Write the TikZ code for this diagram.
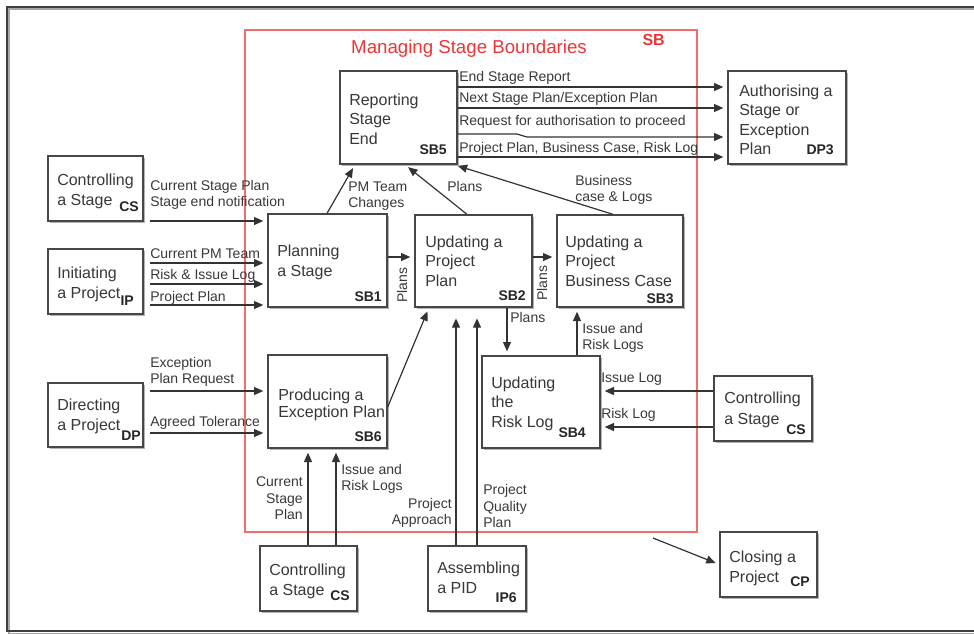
\documentclass[tikz,border=0pt]{standalone}
\usepackage{fontspec}
\setmainfont{Liberation Sans}
\usetikzlibrary{arrows.meta,fit,shadows}
\definecolor{sbred}{RGB}{238,52,52}
\definecolor{sbline}{RGB}{240,110,110}
\begin{document}
% text nodes are placed by the baseline of their last line
\begin{tikzpicture}[x=0.75pt,y=-0.75pt,
  box/.style={draw=black!72, line width=1pt, fill=white, inner sep=0pt,
    drop shadow={shadow xshift=1.2pt, shadow yshift=-1.2pt, fill=black!30, opacity=1}},
  btxt/.style={anchor=base west, inner sep=0pt, align=left, text=black!78,
    font=\fontsize{12}{14.6}\selectfont},
  code/.style={anchor=base east, inner sep=0pt, text=black!85,
    font=\fontsize{10.5}{12}\selectfont\bfseries},
  lbl/.style={anchor=base west, inner sep=0pt, align=left, text=black!78,
    font=\fontsize{10.5}{12.2}\selectfont},
  lblr/.style={lbl, anchor=base east, align=right},
  arr/.style={draw=black!80, line width=0.9pt, -{Triangle[length=7pt,width=6pt]}, shorten >=3pt},
]
\useasboundingbox (0,0) rectangle (974,633);
\clip (0,0) rectangle (974,633);

% outer frame
\draw[black!35, line width=1.5pt] (9,634) -- (9,9) -- (990,9);
\draw[black!35, line width=1.5pt] (9,633.5) -- (990,633.5);
\draw[black!75, line width=1.5pt] (7,632) -- (7,7) -- (990,7);
\draw[black!75, line width=1.5pt] (7,631) -- (990,631);

% stage boundary frame
\node[draw=sbline, line width=1pt, inner sep=0pt, fit={(245,30) (697,532)}] (sb) {};
\node[anchor=base, text=sbred, font=\fontsize{14}{16}\selectfont] (sbtitle) at (469,53) {Managing Stage Boundaries};
\node[anchor=base east, inner sep=0pt, text=sbred, font=\fontsize{12}{14}\selectfont\bfseries] (sbcode) at (665,45) {SB};

% process boxes
\node[box, fit={(340,71) (457,164)}] (sb5) {};
\node[btxt] (sb5t) at (349,144.4) {Reporting\\Stage\\End};
\node[code] (sb5c) at (447,154) {SB5};

\node[box, fit={(728,71) (846,164)}] (dp3) {};
\node[btxt] (dp3t) at (739,154.9) {Authorising a\\Stage or\\Exception\\Plan};
\node[code] (dp3c) at (834,154) {DP3};

\node[box, fit={(48,156) (143,221)}] (cs1) {};
\node[btxt] (cs1t) at (57,205) {Controlling\\a Stage};
\node[code] (cs1c) at (139,211) {CS};

\node[box, fit={(48,249) (143,314)}] (ip) {};
\node[btxt] (ipt) at (57,298) {Initiating\\a Project};
\node[code] (ipc) at (134,305) {IP};

\node[box, fit={(48,383) (143,447)}] (dp) {};
\node[btxt] (dpt) at (57,430) {Directing\\a Project};
\node[code] (dpc) at (141,440) {DP};

\node[box, fit={(268,214) (387,307)}] (sb1) {};
\node[btxt] (sb1t) at (277,276) {Planning\\a Stage};
\node[code] (sb1c) at (382,301) {SB1};

\node[box, fit={(415,215) (532,307)}] (sb2) {};
\node[btxt] (sb2t) at (425,286.4) {Updating a\\Project\\Plan};
\node[code] (sb2c) at (526,300) {SB2};

\node[box, fit={(557,215) (683,307)}] (sb3) {};
\node[btxt] (sb3t) at (565,286.4) {Updating a\\Project\\Business Case};
\node[code] (sb3c) at (674,303) {SB3};

\node[box, fit={(482,356) (600,448)}] (sb4) {};
\node[btxt] (sb4t) at (491,427.4) {Updating\\the\\Risk Log};
\node[code] (sb4c) at (586,437.5) {SB4};

\node[box, fit={(268,355) (387,448)}] (sb6) {};
\node[btxt, font=\fontsize{12}{12.8}\selectfont] (sb6t) at (278,417.6) {Producing a\\Exception Plan};
\node[code] (sb6c) at (382,441) {SB6};

\node[box, fit={(714,376) (812,441)}] (cs2) {};
\node[btxt, font=\fontsize{12}{15.5}\selectfont] (cs2t) at (724,424.2) {Controlling\\a Stage};
\node[code] (cs2c) at (806,434.5) {CS};

\node[box, fit={(260,546) (357,611)}] (cs3) {};
\node[btxt] (cs3t) at (269,595) {Controlling\\a Stage};
\node[code] (cs3c) at (350,600) {CS};

\node[box, fit={(428,546) (526,611)}] (pid) {};
\node[btxt] (pidt) at (437,593) {Assembling\\a PID};
\node[code] (pidc) at (517,602.5) {IP6};

\node[box, fit={(720,532) (817,597)}] (cp) {};
\node[btxt] (cpt) at (729,582) {Closing a\\Project};
\node[code] (cpc) at (810,586) {CP};

% outputs of SB5 to DP3
\draw[arr] (sb5.east |- 0,87) -- (dp3.west |- 0,87);
\draw[arr] (sb5.east |- 0,108) -- (dp3.west |- 0,108);
\draw[arr] (sb5.east |- 0,134) -- (517,134) -- (527,137) -- (dp3.west |- 0,137);
\draw[arr] (sb5.east |- 0,157) -- (dp3.west |- 0,157);
\node[lbl] (l1) at (459,81) {End Stage Report};
\node[lbl] (l2) at (459,102) {Next Stage Plan/Exception Plan};
\node[lbl] (l3) at (459,125) {Request for authorisation to proceed};
\node[lbl] (l4) at (459,152) {Project Plan, Business Case, Risk Log};

% inputs on the left
\draw[arr, shorten <=4.5pt] (cs1.east |- 0,221) -- (sb1.west |- 0,221);
\node[lbl] (l5) at (150,206.3) {Current Stage Plan\\Stage end notification};
\draw[arr, shorten <=4.5pt] (ip.east |- 0,263) -- (sb1.west |- 0,263);
\draw[arr, shorten <=4.5pt] (ip.east |- 0,284) -- (sb1.west |- 0,284);
\draw[arr, shorten <=4.5pt] (ip.east |- 0,305) -- (sb1.west |- 0,305);
\node[lbl] (l6) at (150,258) {Current PM Team};
\node[lbl] (l7) at (150,279) {Risk \& Issue Log};
\node[lbl] (l8) at (150,301) {Project Plan};
\draw[arr, shorten <=4.5pt] (dp.east |- 0,391) -- (sb6.west |- 0,391);
\draw[arr, shorten <=4.5pt] (dp.east |- 0,433) -- (sb6.west |- 0,433);
\node[lbl] (l9) at (150,383.3) {Exception\\Plan Request};
\node[lbl] (l10) at (150,426) {Agreed Tolerance};

% flows inside the stage boundary
\draw[arr] (sb1.east |- 0,257) -- (sb2.west |- 0,257);
\node[lbl, rotate=90, anchor=center] (l11) at (402,285) {Plans};
\draw[arr] (sb2.east |- 0,257) -- (sb3.west |- 0,257);
\node[lbl, rotate=90, anchor=center] (l12) at (542,283) {Plans};

\draw[arr] (sb1.north -| 327,0) -- (sb5.south -| 355,0);
\node[lbl] (l13) at (348,207.3) {PM Team\\Changes};
\draw[arr] (sb2.north -| 467,0) -- (sb5.south -| 405,0);
\node[lbl] (l14) at (447,191) {Plans};
\draw[arr] (sb3.north -| 613,0) -- (sb5.south -| 454,0);
\node[lbl] (l15) at (575,201.3) {Business\\case \& Logs};

\draw[arr] (sb2.south -| 507,0) -- (sb4.north -| 507,0);
\node[lbl] (l16) at (510,322) {Plans};
\draw[arr] (sb4.north -| 577,0) -- (sb3.south -| 577,0);
\node[lbl] (l17) at (582,349.3) {Issue and\\Risk Logs};

\draw[arr] (sb6.east |- 0,407) -- (sb2.south -| 429,0);

% inputs on the right
\draw[arr] (cs2.west |- 0,391) -- (sb4.east |- 0,391);
\draw[arr] (cs2.west |- 0,427) -- (sb4.east |- 0,427);
\node[lbl] (l18) at (601,382) {Issue Log};
\node[lbl] (l19) at (601,418) {Risk Log};

% inputs from below
\draw[arr] (cs3.north -| 308,0) -- (sb6.south -| 308,0);
\draw[arr] (cs3.north -| 336,0) -- (sb6.south -| 336,0);
\node[lblr] (l20) at (303,519.5) {Current\\Stage\\Plan};
\node[lbl] (l21) at (341,490.3) {Issue and\\Risk Logs};
\draw[arr, shorten >=8pt] (pid.north -| 456,0) -- (sb2.south -| 456,0);
\draw[arr, shorten >=8pt] (pid.north -| 477,0) -- (sb2.south -| 477,0);
\node[lblr] (l22) at (452,524.3) {Project\\Approach};
\node[lbl] (l23) at (483,527.5) {Project\\Quality\\Plan};

% exit to closing
\coordinate (sbexit) at (653,538);
\draw[arr] (sbexit) -- (cp.west);
\end{tikzpicture}
\end{document}
